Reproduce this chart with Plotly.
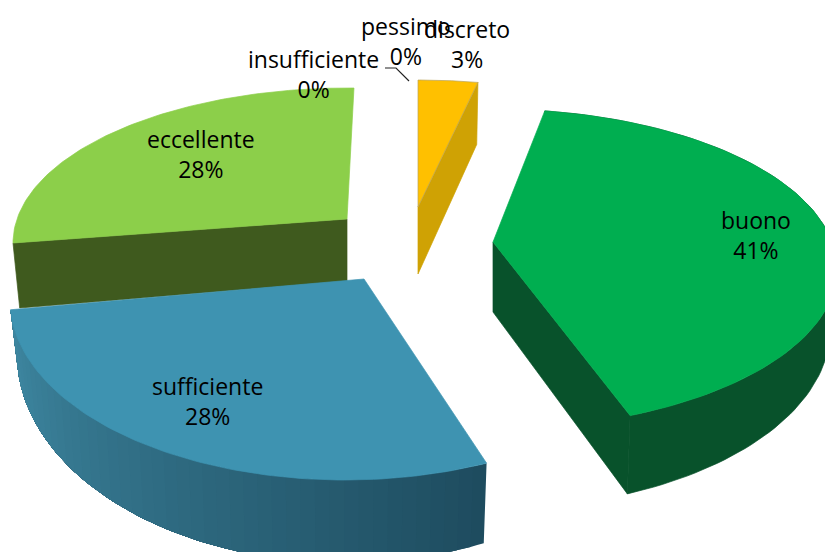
import numpy as np
import plotly.graph_objects as go

categories = ["discreto", "buono", "sufficiente", "eccellente", "insufficiente", "pessimo"]
values = [3, 41, 28, 28, 0, 0]

top_colors = ["#FFC000", "#00AE50", "#3E93B1", "#8CCF4A"]
wall_colors = ["#CFA204", "#08522B", "#2F7188", "#3F5A1E"]
wall_grad = {2: ("#3F89A3", "#1E4C5F")}

# projection of each exploded slice onto the picture (pixels)
geom = {
    0: dict(apex=(418, 207), c=(418, 230), r=(335, 150), phi0=0, k=0.954, da=67, a=62, b=0, wall="end"),
    1: dict(apex=(493, 242), c=(492, 269), r=(345, 160), phi0=8.8, k=1.0, da=70, a=28.4, b=0.12, wall="end"),
    2: dict(apex=(364, 279), c=(345, 300), r=(335, 180), phi0=155, k=1.11, da=60, a=2.7, b=0.167, wall=None),
    3: dict(apex=(347, 219), c=(348, 243), r=(335, 155), phi0=270, k=0.903, da=62, a=65, b=0, wall="start"),
}
SHRINK = 0.98

label_pos = {
    "discreto": (467, 44), "buono": (756, 235), "sufficiente": (207, 401),
    "eccellente": (201, 154), "insufficiente": (313, 74), "pessimo": (406, 41),
}
leader_x = [385, 396, 409]
leader_y = [68, 68, 81]

total = sum(values)


def mix(c1, c2, t):
    a = [int(c1[i:i + 2], 16) for i in (1, 3, 5)]
    b = [int(c2[i:i + 2], 16) for i in (1, 3, 5)]
    return "rgb({},{},{})".format(*[round(p + (q - p) * t) for p, q in zip(a, b)])


def poly(x, y, color, line=None, width=0.7):
    x, y = list(x), list(y)
    return go.Scatter(x=x + x[:1], y=y + y[:1], mode="lines", fill="toself", fillcolor=color,
                      line=dict(color=line or color, width=width), hoverinfo="skip", showlegend=False)


def arc(i):
    g = geom[i]
    span = values[i] / total * 360 * g["k"]
    phi = np.radians(np.linspace(g["phi0"], g["phi0"] + span, 90))
    x = g["c"][0] + g["r"][0] * np.sin(phi)
    y = g["c"][1] - g["r"][1] * np.cos(phi)
    bx = g["c"][0] + (x - g["c"][0]) * SHRINK
    by = y + g["a"] + g["b"] * y
    return x, y, bx, by


fig = go.Figure()
for i in [3, 0, 1, 2]:
    g = geom[i]
    x, y, bx, by = arc(i)
    # outer wall
    if i in (1, 2):
        if i in wall_grad:
            for s in range(0, len(x) - 1, 2):
                t = 1 - s / (len(x) - 2)
                col = mix(*wall_grad[i], t)
                fig.add_trace(poly(np.r_[x[s:], bx[s:][::-1]], np.r_[y[s:], by[s:][::-1]], col, width=0))
        else:
            keep = x > g["c"][0] - 5
            fig.add_trace(poly(np.r_[x[keep], bx[keep][::-1]], np.r_[y[keep], by[keep][::-1]], wall_colors[i]))
    # radial wall
    if g["wall"]:
        e = -1 if g["wall"] == "end" else 0
        ax, ay = g["apex"]
        fig.add_trace(poly([x[e], ax, ax, bx[e]], [y[e], ay, ay + g["da"], by[e]], wall_colors[i]))
    # top face
    fig.add_trace(poly(np.r_[g["apex"][0], x], np.r_[g["apex"][1], y], top_colors[i],
                       line="#B9A35A" if i == 0 else None))

fig.add_trace(go.Scatter(x=leader_x, y=leader_y, mode="lines", line=dict(color="#222222", width=1.2),
                         hoverinfo="skip", showlegend=False))

for cat, val in zip(categories, values):
    lx, ly = label_pos[cat]
    fig.add_annotation(x=lx, y=ly, text=f"{cat}<br>{round(val / total * 100)}%", showarrow=False,
                       font=dict(family="Open Sans", size=23, color="#000000"), align="center",
                       xanchor="center", yanchor="middle")

fig.update_layout(width=825, height=552, margin=dict(l=0, r=0, t=0, b=0), paper_bgcolor="white",
                  plot_bgcolor="white", showlegend=False,
                  xaxis=dict(range=[0, 825], visible=False, fixedrange=True),
                  yaxis=dict(range=[552, 0], visible=False, fixedrange=True))
fig.write_html("out.html", config={"displayModeBar": False},
               post_script="document.body.style.margin='0';document.body.style.overflow='hidden';")
